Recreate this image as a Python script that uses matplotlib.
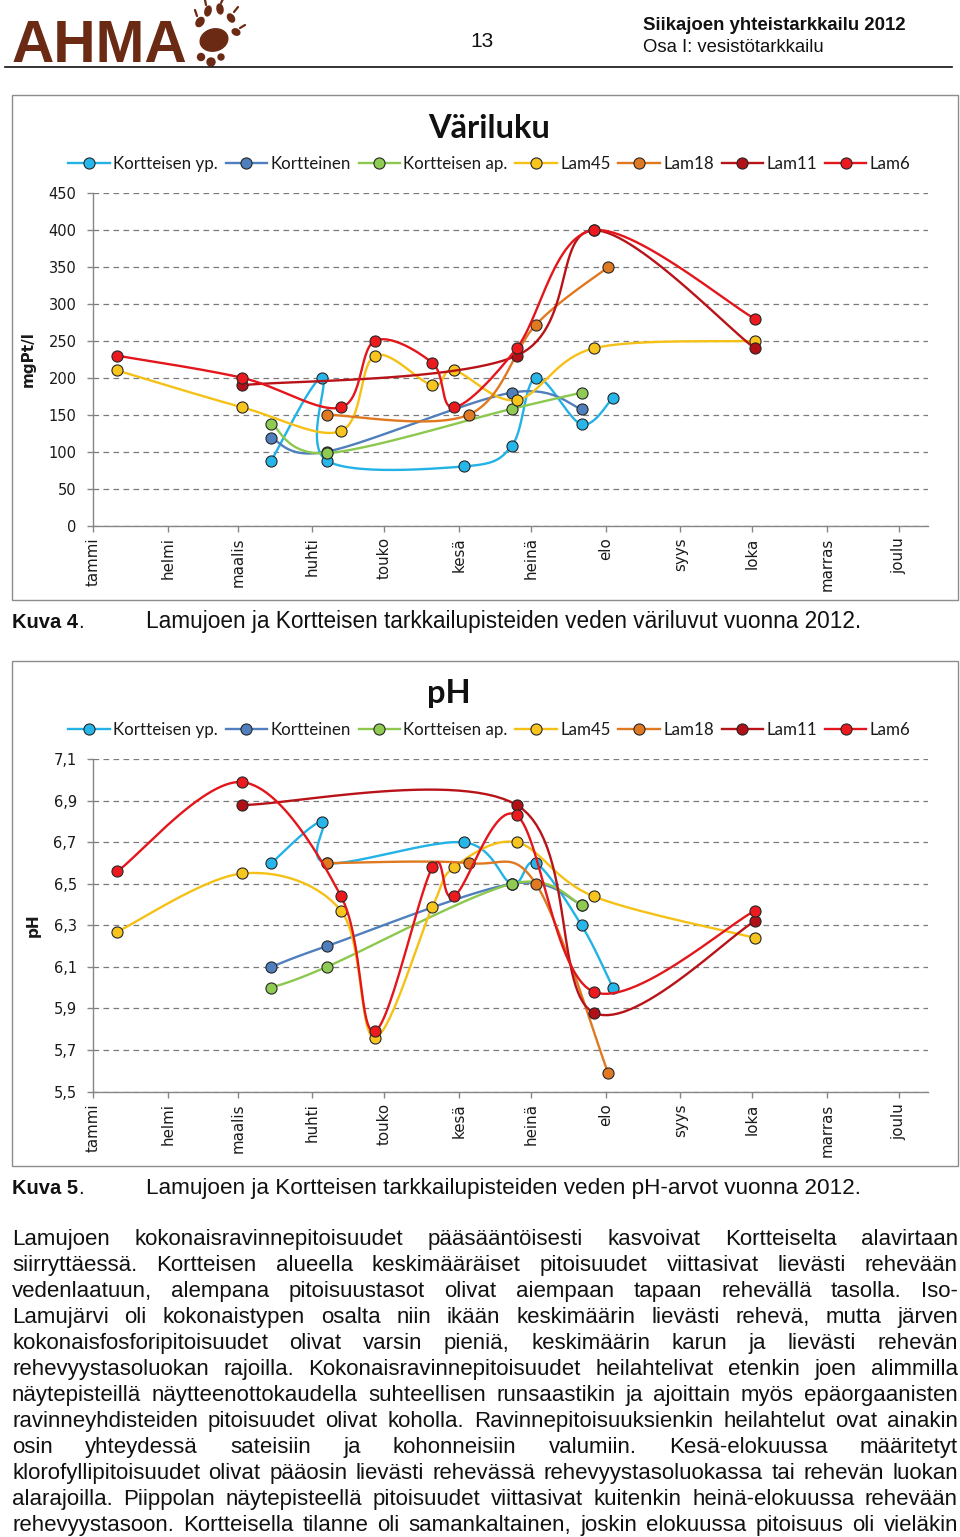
import numpy as np
import pandas as pd
import matplotlib
matplotlib.use("Agg")
import matplotlib.pyplot as plt
from matplotlib import font_manager
from matplotlib.patches import Rectangle, Ellipse
from matplotlib.lines import Line2D

W, H = 960, 1537

# ---------------- data ----------------
months = ['tammi', 'helmi', 'maalis', 'huhti', 'touko', 'kesä',
          'heinä', 'elo', 'syys', 'loka', 'marras', 'joulu']
series_names = ['Kortteisen yp.', 'Kortteinen', 'Kortteisen ap.',
                'Lam45', 'Lam18', 'Lam11', 'Lam6']
line_colors = ['#22b2e6', '#4f7fbd', '#8cc84e', '#f5c116', '#e0781f', '#b81318', '#e3161c']
marker_colors = ['#27b6ea', '#4f7fbd', '#8fcb52', '#f8c51e', '#e07a22', '#b01016', '#ec1a1f']

# sampling dates of each station
kyp_dates = ['2012-03-15', '2012-04-05', '2012-04-07', '2012-06-03',
             '2012-06-23', '2012-07-03', '2012-07-22', '2012-08-04']
kor_dates = ['2012-03-15', '2012-04-07', '2012-06-23', '2012-07-22']
kap_dates = ['2012-03-15', '2012-04-07', '2012-06-23', '2012-07-22']
lam45_dates = ['2012-01-11', '2012-03-03', '2012-04-13', '2012-04-27', '2012-05-21',
               '2012-05-30', '2012-06-25', '2012-07-27', '2012-10-02']
lam18_dates = ['2012-04-07', '2012-06-05', '2012-07-03', '2012-08-02']
lam11_dates = ['2012-03-03', '2012-06-25', '2012-07-27', '2012-10-02']
lam6_dates = ['2012-01-11', '2012-03-03', '2012-04-13', '2012-04-27', '2012-05-21',
              '2012-05-30', '2012-06-25', '2012-07-27', '2012-10-02']

# väriluku, mgPt/l
kyp_vari = [88, 200, 88, 80, 108, 200, 137, 173]
kor_vari = [118, 100, 180, 158]
kap_vari = [138, 98, 158, 180]
lam45_vari = [210, 160, 128, 230, 190, 210, 170, 240, 250]
lam18_vari = [150, 150, 272, 350]
lam11_vari = [190, 230, 400, 240]
lam6_vari = [230, 200, 160, 250, 220, 160, 240, 400, 280]

# pH
kyp_ph = [6.6, 6.8, 6.6, 6.7, 6.5, 6.6, 6.3, 6.0]
kor_ph = [6.1, 6.2, 6.5, 6.4]
kap_ph = [6.0, 6.1, 6.5, 6.4]
lam45_ph = [6.27, 6.55, 6.37, 5.76, 6.39, 6.58, 6.70, 6.44, 6.24]
lam18_ph = [6.6, 6.6, 6.5, 5.59]
lam11_ph = [6.88, 6.88, 5.88, 6.32]
lam6_ph = [6.56, 6.99, 6.44, 5.79, 6.58, 6.44, 6.83, 5.98, 6.37]

vari_ticks = [0, 50, 100, 150, 200, 250, 300, 350, 400, 450]
vari_tick_labels = [str(v) for v in vari_ticks]
ph_ticks = [5.5, 5.7, 5.9, 6.1, 6.3, 6.5, 6.7, 6.9, 7.1]
ph_tick_labels = ['5,5', '5,7', '5,9', '6,1', '6,3', '6,5', '6,7', '6,9', '7,1']

caption4 = 'Lamujoen ja Kortteisen tarkkailupisteiden veden väriluvut vuonna 2012.'
caption5 = 'Lamujoen ja Kortteisen tarkkailupisteiden veden pH-arvot vuonna 2012.'

body_lines = [
    'Lamujoen kokonaisravinnepitoisuudet pääsääntöisesti kasvoivat Kortteiselta alavirtaan',
    'siirryttäessä. Kortteisen alueella keskimääräiset pitoisuudet viittasivat lievästi rehevään',
    'vedenlaatuun, alempana pitoisuustasot olivat aiempaan tapaan rehevällä tasolla. Iso-',
    'Lamujärvi oli kokonaistypen osalta niin ikään keskimäärin lievästi rehevä, mutta järven',
    'kokonaisfosforipitoisuudet olivat varsin pieniä, keskimäärin karun ja lievästi rehevän',
    'rehevyystasoluokan rajoilla. Kokonaisravinnepitoisuudet heilahtelivat etenkin joen alimmilla',
    'näytepisteillä näytteenottokaudella suhteellisen runsaastikin ja ajoittain myös epäorgaanisten',
    'ravinneyhdisteiden pitoisuudet olivat koholla. Ravinnepitoisuuksienkin heilahtelut ovat ainakin',
    'osin yhteydessä sateisiin ja kohonneisiin valumiin. Kesä-elokuussa määritetyt',
    'klorofyllipitoisuudet olivat pääosin lievästi rehevässä rehevyystasoluokassa tai rehevän luokan',
    'alarajoilla. Piippolan näytepisteellä pitoisuudet viittasivat kuitenkin heinä-elokuussa rehevään',
    'rehevyystasoon. Kortteisella tilanne oli samankaltainen, joskin elokuussa pitoisuus oli vieläkin',
]

station_dates = [kyp_dates, kor_dates, kap_dates, lam45_dates, lam18_dates, lam11_dates, lam6_dates]
vari_values = [kyp_vari, kor_vari, kap_vari, lam45_vari, lam18_vari, lam11_vari, lam6_vari]
ph_values = [kyp_ph, kor_ph, kap_ph, lam45_ph, lam18_ph, lam11_ph, lam6_ph]

# ---------------- fonts ----------------
installed = {f.name for f in font_manager.fontManager.ttflist}


def pick(*names):
    for n in names:
        if n in installed:
            return n
    return 'DejaVu Sans'


body_font = pick('Liberation Sans', 'Arial')
chart_font = pick('Lato', 'Open Sans')
tick_font = 'DejaVu Sans'
edge_color = '#262626'
axis_grey = '#868686'

fig = plt.figure(figsize=(W / 100, H / 100), dpi=100)
# background axes in page pixel units
bg = fig.add_axes([0, 0, 1, 1])
bg.set_xlim(0, W)
bg.set_ylim(H, 0)
bg.axis('off')
renderer = fig.canvas.get_renderer()


def text_width(t):
    return t.get_window_extent(renderer).width


def fit_text(t, target):
    # scale font so that the text is target pixels wide
    t.set_fontsize(t.get_fontsize() * target / text_width(t))
    return t


def day_of_year(dates):
    return np.array(pd.to_datetime(dates).dayofyear - 1, dtype=float)


def smooth_curve(ax, x, y, steps=30):
    # Bezier smoothing like the spreadsheet "smoothed line", done in pixel space
    pts = ax.transData.transform(np.column_stack([x, y]))
    segs = []
    for i in range(len(pts) - 1):
        p0 = pts[max(i - 1, 0)]
        p1 = pts[i]
        p2 = pts[i + 1]
        p3 = pts[min(i + 2, len(pts) - 1)]
        c1 = p1 + (p2 - p0) / 6.0
        c2 = p2 - (p3 - p1) / 6.0
        t = np.linspace(0, 1, steps)[:, None]
        seg = (1 - t) ** 3 * p1 + 3 * (1 - t) ** 2 * t * c1 + 3 * (1 - t) * t ** 2 * c2 + t ** 3 * p2
        segs.append(seg if i == 0 else seg[1:])
    curve = ax.transData.inverted().transform(np.vstack(segs))
    return curve[:, 0], curve[:, 1]


# ---------------- header ----------------
logo = bg.text(12, 62, 'AHMA', fontsize=40, fontweight='bold', color='#6b2a14',
               family=body_font, va='baseline', ha='left')
fit_text(logo, 176)
paw = '#6b2a14'
bg.add_patch(Ellipse((214, 40), 28, 22, angle=-15, color=paw))
# toes with small claws
for (px, py, w, h, a) in [(200, 22, 7, 10, 35), (208, 11, 6, 10, 15), (220, 9, 6, 10, -10),
                          (231, 18, 6, 9, -35), (236, 32, 6, 8, -65)]:
    bg.add_patch(Ellipse((px, py), w, h, angle=a, color=paw))
for (px, py, cx, cy) in [(197, 16, 195, 10), (206, 5, 205, 0), (221, 3, 223, -1),
                         (234, 12, 238, 7), (240, 28, 245, 25)]:
    bg.plot([px, cx], [py, cy], color=paw, lw=1.6, solid_capstyle='round')
for (px, py, d) in [(201, 57, 7), (211, 62, 8), (221, 57, 6)]:
    bg.add_patch(Ellipse((px, py), d, d, color=paw))
bg.text(482, 47, '13', fontsize=15, family=body_font, ha='center', va='baseline', color='#111111')
t = bg.text(643, 30, 'Siikajoen yhteistarkkailu 2012', fontsize=13, fontweight='bold',
            family=body_font, va='baseline', color='#111111')
fit_text(t, 263)
t = bg.text(643, 52, 'Osa I: vesistötarkkailu', fontsize=13, family=body_font,
            va='baseline', color='#111111')
fit_text(t, 181)
bg.plot([5, 952], [67, 67], color='#111111', lw=1.2)


# ---------------- charts ----------------
def draw_chart(dy, title, title_cx, ylabel, ylabel_cx, values, yticks, ytick_labels):
    # frame around the chart object
    bg.add_patch(Rectangle((12, 95 + dy), 946, 505, fill=False, ec='#8c8c8c', lw=1.0))
    ax = fig.add_axes([93.3 / W, 1 - (525.5 + dy) / H, (928 - 93.3) / W, (525.5 - 193.3) / H])
    ax.set_facecolor('none')
    ax.set_xlim(0, 347)
    ax.set_ylim(yticks[0], yticks[-1])
    for s in ['top', 'right']:
        ax.spines[s].set_visible(False)
    for s in ['left', 'bottom']:
        ax.spines[s].set_color(axis_grey)
        ax.spines[s].set_linewidth(1.0)
    month_days = np.array(pd.date_range('2012-01-01', periods=12, freq='MS').dayofyear - 1)
    ax.set_xticks(month_days, months, rotation=90, fontsize=10.8, family=tick_font, color='#1a1a1a')
    ax.set_yticks(yticks, ytick_labels, fontsize=10.5, family=tick_font, color='#1a1a1a')
    ax.tick_params(axis='both', direction='out', length=4, width=1, color=axis_grey)
    ax.tick_params(axis='x', pad=4.5)
    ax.tick_params(axis='y', pad=8)
    ax.yaxis.grid(True, linestyle=(0, (4.5, 3.5)), color='#7a7a7a', lw=0.9)
    ax.set_axisbelow(True)
    ax.set_ylabel(ylabel, fontsize=11, fontweight='bold', family=tick_font, color='#1a1a1a')
    ax.yaxis.set_label_coords((ylabel_cx - 93.3) / (928 - 93.3), 0.5)
    ax.yaxis.label.set_va('center')

    handles = []
    for i in range(len(series_names)):
        x = day_of_year(station_dates[i])
        y = np.array(values[i], dtype=float)
        sx, sy = smooth_curve(ax, x, y)
        ax.plot(sx, sy, color=line_colors[i], lw=1.7, zorder=3 + i, solid_capstyle='round')
        ax.plot(x, y, linestyle='none', marker='o', ms=8, mfc=marker_colors[i], mec=edge_color,
                mew=0.8, zorder=3 + i, clip_on=False)
        handles.append(Line2D([], [], color=line_colors[i], lw=1.7, marker='o', ms=8,
                              mfc=marker_colors[i], mec=edge_color, mew=0.8))

    # title and legend
    tt = bg.text(title_cx, 128 + dy, title, fontsize=22, fontweight='bold', family=chart_font,
                 ha='center', va='center', color='#111111')
    fig.legend(handles, series_names, loc='center', bbox_to_anchor=(489.5 / W, 1 - (164 + dy) / H),
               ncol=7, frameon=False, prop={'family': chart_font, 'size': 12.2},
               handlelength=2.45, handletextpad=0.2, columnspacing=0.45, numpoints=1,
               labelcolor='#1a1a1a')
    return ax, tt


ax1, t1 = draw_chart(0, 'Väriluku', 489, 'mgPt/l', 28, vari_values, vari_ticks, vari_tick_labels)
fit_text(t1, 122)
ax2, t2 = draw_chart(566, 'pH', 449, 'pH', 33, ph_values, ph_ticks, ph_tick_labels)
t2.set_fontsize(t1.get_fontsize())


# ---------------- captions ----------------
def caption(y, number, text):
    k = bg.text(12, y, 'Kuva ' + number, fontsize=14.5, fontweight='bold', family=body_font,
                va='baseline', color='#111111')
    bg.text(12 + text_width(k), y, '.', fontsize=14.5, family=body_font, va='baseline', color='#111111')
    c = bg.text(146, y, text, fontsize=14.5, family=body_font, va='baseline', color='#111111')
    fit_text(c, 714)


caption(628, '4', caption4)
caption(1194, '5', caption5)


# ---------------- body text, justified ----------------
def justify(line, y, left=12, right=958, size=16.0):
    words = line.split()
    texts = [bg.text(0, y, w, fontsize=size, family=body_font, va='baseline', color='#111111')
             for w in words]
    widths = [text_width(t) for t in texts]
    space = size * 100 / 72 * 0.22
    need = sum(widths) + space * (len(words) - 1)
    if need > right - left:
        scale = (right - left) / need
        for t in texts:
            t.set_fontsize(size * scale)
        widths = [text_width(t) for t in texts]
    gap = (right - left - sum(widths)) / (len(words) - 1)
    x = left
    for t, w in zip(texts, widths):
        t.set_x(x)
        x += w + gap


for i, line in enumerate(body_lines):
    justify(line, 1245 + 26 * i)

fig.savefig('out.png', dpi=100)
